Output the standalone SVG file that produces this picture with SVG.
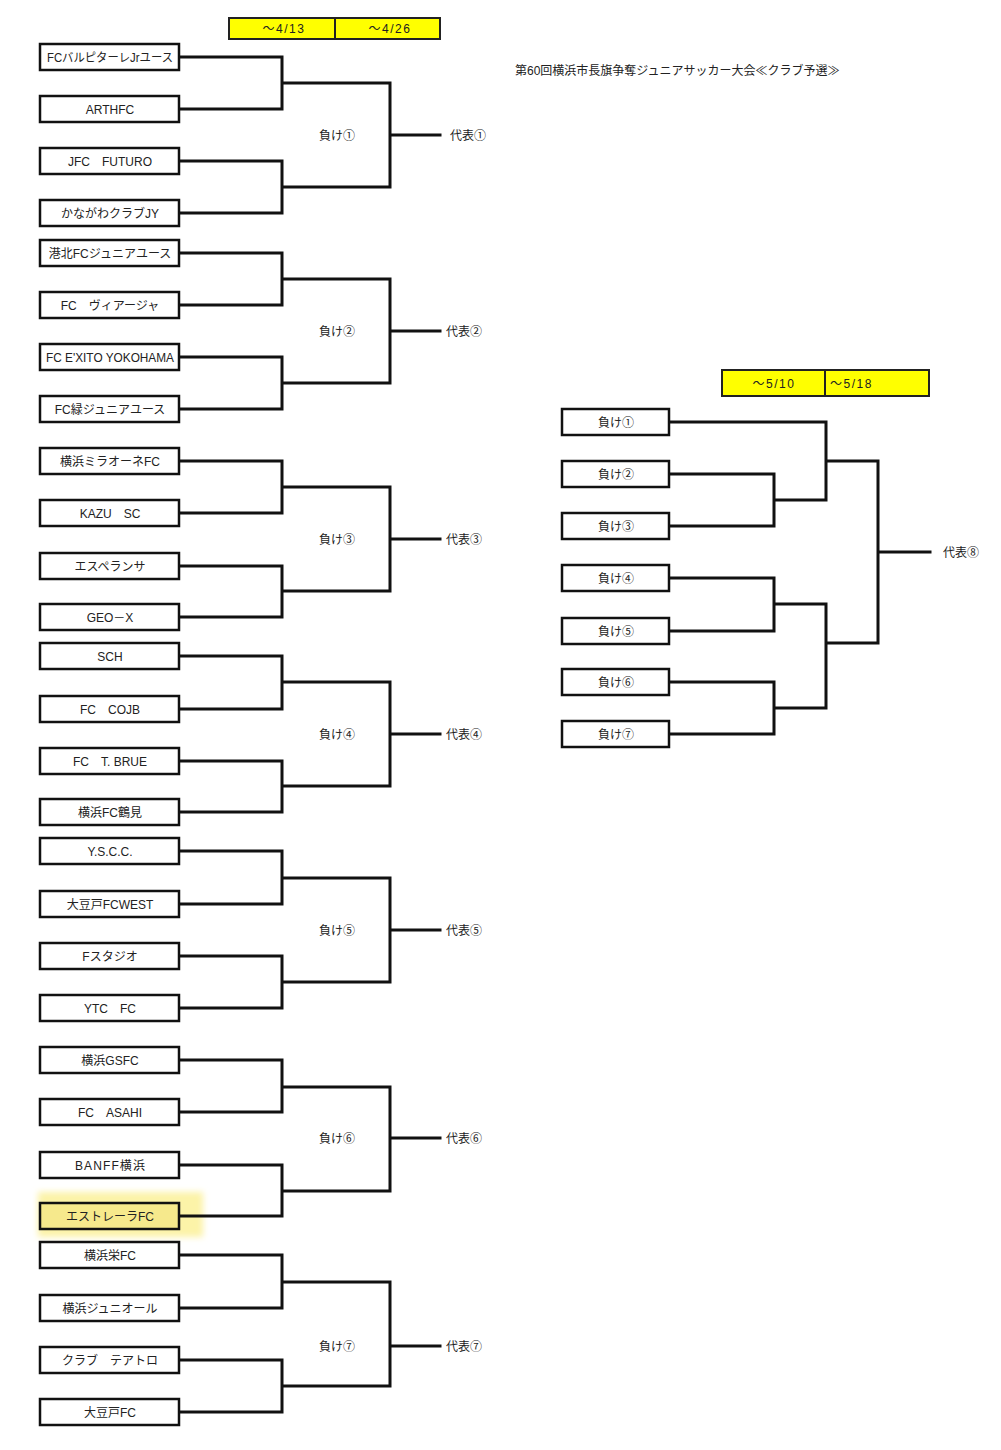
<svg xmlns="http://www.w3.org/2000/svg" width="1001" height="1450" viewBox="0 0 1001 1450">
<style>
text{font-family:"Liberation Sans","Noto Sans CJK JP",sans-serif;font-size:12px;fill:#222}
.tb{fill:#fff;stroke:#111;stroke-width:2.5}
.hl{fill:#f6e98c;stroke:#111;stroke-width:2.5}
.hd{fill:#ffff00;stroke:#222;stroke-width:2}
.c{fill:none;stroke:#111;stroke-width:3;stroke-linejoin:miter;stroke-linecap:square}
.m{text-anchor:middle}
.d{letter-spacing:1.5px}
</style>
<defs>
<filter id="glow" x="-20%" y="-40%" width="140%" height="180%"><feGaussianBlur stdDeviation="3"/></filter>
</defs>
<rect width="1001" height="1450" fill="#fff"/>

<g id="title"><text x="515" y="75">第60回横浜市長旗争奪ジュニアサッカー大会≪クラブ予選≫</text></g>

<g id="header-left">
<rect class="hd" x="229" y="18" width="211" height="21"/>
<line x1="335" y1="18" x2="335" y2="39" stroke="#222" stroke-width="2"/>
<text class="m d" x="284" y="33">～4/13</text>
<text class="m d" x="390" y="33">～4/26</text>
</g>
<g id="header-right">
<rect class="hd" x="722" y="370" width="207" height="26"/>
<line x1="825" y1="370" x2="825" y2="396" stroke="#222" stroke-width="2"/>
<text class="m d" x="774" y="388">～5/10</text>
<text class="d" x="830" y="388">～5/18</text>
</g>

<g id="highlight"><rect x="38" y="1192" width="165" height="45" fill="#fcf3a8" filter="url(#glow)"/></g>

<g id="connectors">
<path class="c" d="M179,57H282V109H179M282,83H390V187H282M179,161H282V213H179M390,135H440"/>
<path class="c" d="M179,253H282V305H179M282,279H390V383H282M179,357H282V409H179M390,331H440"/>
<path class="c" d="M179,461H282V513H179M282,487H390V591H282M179,566H282V617H179M390,539H440"/>
<path class="c" d="M179,656H282V709H179M282,682H390V786H282M179,761H282V812H179M390,734H440"/>
<path class="c" d="M179,851H282V904H179M282,878H390V982H282M179,956H282V1008H179M390,930H440"/>
<path class="c" d="M179,1060H282V1112H179M282,1087H390V1191H282M179,1165H282V1216H179M390,1138H440"/>
<path class="c" d="M179,1255H282V1308H179M282,1282H390V1386H282M179,1360H282V1412H179M390,1346H440"/>
<path class="c" d="M669,422H826V500H774M669,474H774V526H669M826,461H878V643H826M669,578H774V631H669M774,604H826V708H774M669,682H774V734H669M878,552H930"/>
</g>

<g id="g1">
<g id="t1"><rect class="tb" x="40" y="44" width="139" height="26"/><text class="m" x="110" y="61.5" textLength="126" lengthAdjust="spacingAndGlyphs">FCバルピターレJrユース</text></g>
<g id="t2"><rect class="tb" x="40" y="96" width="139" height="26"/><text class="m" x="110" y="113.5">ARTHFC</text></g>
<g id="t3"><rect class="tb" x="40" y="148" width="139" height="26"/><text class="m" x="110" y="165.5">JFC　FUTURO</text></g>
<g id="t4"><rect class="tb" x="40" y="200" width="139" height="26"/><text class="m" x="110" y="217.5">かながわクラブJY</text></g>
<text class="m" x="337" y="139.5">負け①</text>
<text x="450" y="139.5">代表①</text>
</g>

<g id="g2">
<g id="t5"><rect class="tb" x="40" y="240" width="139" height="26"/><text class="m" x="110" y="257.5">港北FCジュニアユース</text></g>
<g id="t6"><rect class="tb" x="40" y="292" width="139" height="26"/><text class="m" x="110" y="309.5">FC　ヴィアージャ</text></g>
<g id="t7"><rect class="tb" x="40" y="344" width="139" height="26"/><text class="m" x="110" y="361.5" textLength="128" lengthAdjust="spacingAndGlyphs">FC E'XITO YOKOHAMA</text></g>
<g id="t8"><rect class="tb" x="40" y="396" width="139" height="26"/><text class="m" x="110" y="413.5">FC緑ジュニアユース</text></g>
<text class="m" x="337" y="335.5">負け②</text>
<text x="446" y="335.5">代表②</text>
</g>

<g id="g3">
<g id="t9"><rect class="tb" x="40" y="448" width="139" height="26"/><text class="m" x="110" y="465.5">横浜ミラオーネFC</text></g>
<g id="t10"><rect class="tb" x="40" y="500" width="139" height="26"/><text class="m" x="110" y="517.5">KAZU　SC</text></g>
<g id="t11"><rect class="tb" x="40" y="553" width="139" height="26"/><text class="m" x="110" y="570.5">エスペランサ</text></g>
<g id="t12"><rect class="tb" x="40" y="604" width="139" height="26"/><text class="m" x="110" y="621.5">GEO－X</text></g>
<text class="m" x="337" y="543.5">負け③</text>
<text x="446" y="543.5">代表③</text>
</g>

<g id="g4">
<g id="t13"><rect class="tb" x="40" y="643" width="139" height="26"/><text class="m" x="110" y="660.5">SCH</text></g>
<g id="t14"><rect class="tb" x="40" y="696" width="139" height="26"/><text class="m" x="110" y="713.5">FC　COJB</text></g>
<g id="t15"><rect class="tb" x="40" y="748" width="139" height="26"/><text class="m" x="110" y="765.5">FC　T. BRUE</text></g>
<g id="t16"><rect class="tb" x="40" y="799" width="139" height="26"/><text class="m" x="110" y="816.5">横浜FC鶴見</text></g>
<text class="m" x="337" y="738.5">負け④</text>
<text x="446" y="738.5">代表④</text>
</g>

<g id="g5">
<g id="t17"><rect class="tb" x="40" y="838" width="139" height="26"/><text class="m" x="110" y="855.5">Y.S.C.C.</text></g>
<g id="t18"><rect class="tb" x="40" y="891" width="139" height="26"/><text class="m" x="110" y="908.5">大豆戸FCWEST</text></g>
<g id="t19"><rect class="tb" x="40" y="943" width="139" height="26"/><text class="m" x="110" y="960.5">Fスタジオ</text></g>
<g id="t20"><rect class="tb" x="40" y="995" width="139" height="26"/><text class="m" x="110" y="1012.5">YTC　FC</text></g>
<text class="m" x="337" y="934.5">負け⑤</text>
<text x="446" y="934.5">代表⑤</text>
</g>

<g id="g6">
<g id="t21"><rect class="tb" x="40" y="1047" width="139" height="26"/><text class="m" x="110" y="1064.5">横浜GSFC</text></g>
<g id="t22"><rect class="tb" x="40" y="1099" width="139" height="26"/><text class="m" x="110" y="1116.5">FC　ASAHI</text></g>
<g id="t23"><rect class="tb" x="40" y="1152" width="139" height="26"/><text class="m" x="110" y="1169.5" textLength="70" lengthAdjust="spacing">BANFF横浜</text></g>
<g id="t24"><rect class="hl" x="40" y="1203" width="139" height="26"/><text class="m" x="110" y="1220.5">エストレーラFC</text></g>
<text class="m" x="337" y="1142.5">負け⑥</text>
<text x="446" y="1142.5">代表⑥</text>
</g>

<g id="g7">
<g id="t25"><rect class="tb" x="40" y="1242" width="139" height="26"/><text class="m" x="110" y="1259.5">横浜栄FC</text></g>
<g id="t26"><rect class="tb" x="40" y="1295" width="139" height="26"/><text class="m" x="110" y="1312.5">横浜ジュニオール</text></g>
<g id="t27"><rect class="tb" x="40" y="1347" width="139" height="26"/><text class="m" x="110" y="1364.5">クラブ　テアトロ</text></g>
<g id="t28"><rect class="tb" x="40" y="1399" width="139" height="26"/><text class="m" x="110" y="1416.5">大豆戸FC</text></g>
<text class="m" x="337" y="1350.5">負け⑦</text>
<text x="446" y="1350.5">代表⑦</text>
</g>

<g id="consolation">
<g id="l1"><rect class="tb" x="562" y="409" width="107" height="26"/><text class="m" x="616" y="426.5">負け①</text></g>
<g id="l2"><rect class="tb" x="562" y="461" width="107" height="26"/><text class="m" x="616" y="478.5">負け②</text></g>
<g id="l3"><rect class="tb" x="562" y="513" width="107" height="26"/><text class="m" x="616" y="530.5">負け③</text></g>
<g id="l4"><rect class="tb" x="562" y="565" width="107" height="26"/><text class="m" x="616" y="582.5">負け④</text></g>
<g id="l5"><rect class="tb" x="562" y="618" width="107" height="26"/><text class="m" x="616" y="635.5">負け⑤</text></g>
<g id="l6"><rect class="tb" x="562" y="669" width="107" height="26"/><text class="m" x="616" y="686.5">負け⑥</text></g>
<g id="l7"><rect class="tb" x="562" y="721" width="107" height="26"/><text class="m" x="616" y="738.5">負け⑦</text></g>
<text x="943" y="556.5">代表⑧</text>
</g>
</svg>
